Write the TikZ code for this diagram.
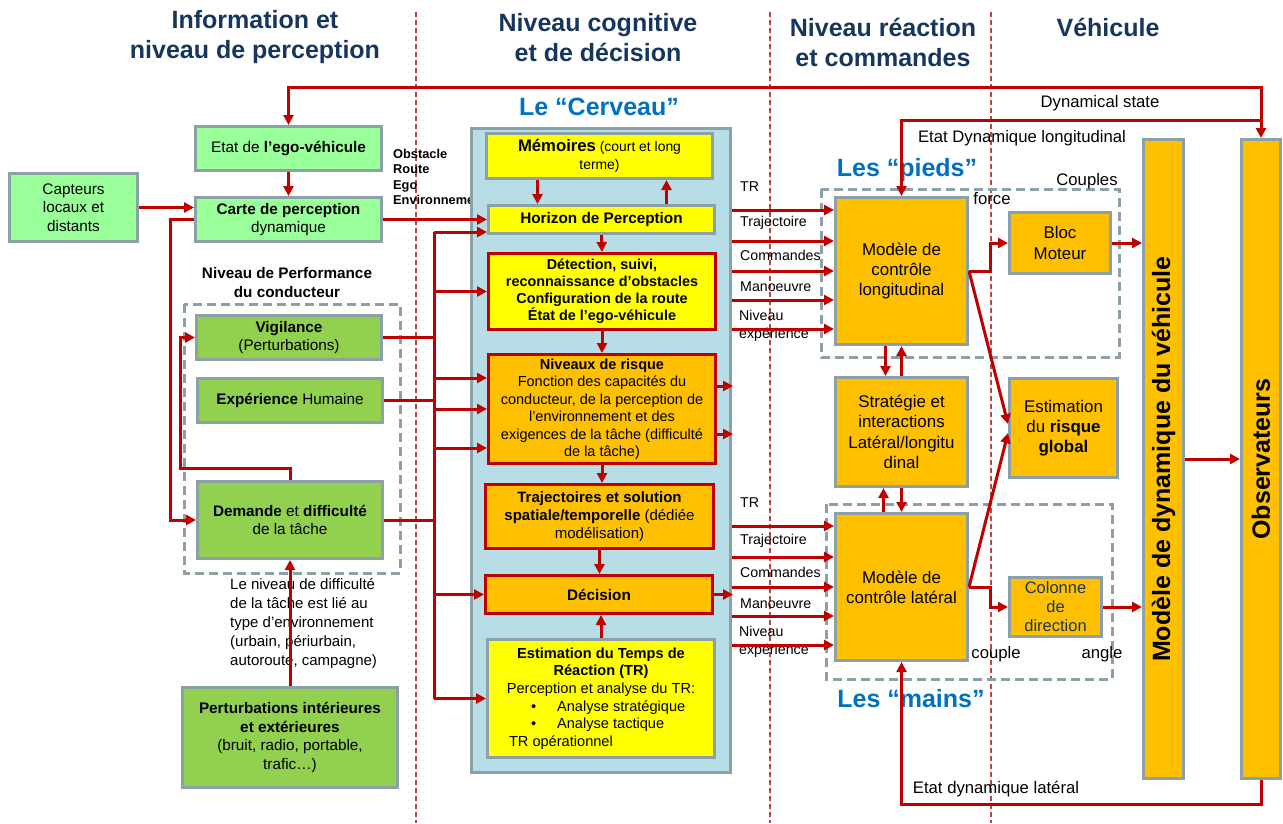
\documentclass[tikz,border=0pt]{standalone}
\usepackage{fontspec}
\setmainfont{Liberation Sans}
\usetikzlibrary{arrows.meta,positioning}
\definecolor{arrred}{RGB}{192,0,0}
\definecolor{boxgray}{RGB}{140,160,168}
\definecolor{lgreen}{RGB}{153,255,153}
\definecolor{mgreen}{RGB}{146,208,80}
\definecolor{cyell}{RGB}{255,255,0}
\definecolor{corange}{RGB}{255,192,0}
\definecolor{brainbg}{RGB}{183,221,230}
\definecolor{titlenavy}{RGB}{23,54,93}
\definecolor{lesblue}{RGB}{0,112,192}
\definecolor{sepred}{RGB}{185,70,70}

\begin{document}
\begin{tikzpicture}[x=1pt, y=-1pt, >={Triangle[length=10pt,width=10pt]},
  box/.style={draw=boxgray, line width=3pt, align=center, inner sep=2pt},
  lgbox/.style={box, fill=lgreen, font=\fontsize{15.3}{18.5}\selectfont},
  mgbox/.style={box, fill=mgreen, font=\fontsize{15.3}{18.7}\selectfont},
  ybox/.style={box, fill=cyell},
  rbox/.style={box, draw=arrred, fill=corange},
  obox/.style={box, fill=corange, font=\fontsize{16.9}{20.3}\selectfont},
  vbar/.style={box, fill=corange, rotate=90, minimum width=639pt, minimum height=40pt, font=\bfseries\fontsize{25}{30}\selectfont},
  wire/.style={draw=arrred, line width=3pt},
  arr/.style={wire, ->},
  grp/.style={draw=boxgray, line width=3pt, dash pattern=on 9pt off 5pt},
  sep/.style={draw=sepred, line width=1.3pt, dash pattern=on 5pt off 3pt},
  ttl/.style={font=\bfseries\fontsize{25}{30}\selectfont, text=titlenavy, align=center},
  les/.style={font=\bfseries\fontsize{25}{30}\selectfont, text=lesblue},
  lbl/.style={font=\fontsize{16.7}{19}\selectfont, inner sep=0pt},
  inlbl/.style={font=\fontsize{14.2}{18.5}\selectfont, inner sep=0pt, anchor=west, align=left}]
  \useasboundingbox (0,0) rectangle (1283,823);

  \foreach \sx in {416,770,991} \draw[sep] (\sx,12) -- (\sx,823);

  \node[ttl] (t1) at (255,37) {Information et\\niveau de perception};
  \node[ttl] (t2) at (598,38) {Niveau cognitive\\et de décision};
  \node[ttl] (t3) at (883,42) {Niveau réaction\\et commandes};
  \node[ttl] (t4) at (1108,27) {Véhicule};

  \draw[grp] (184,304) rectangle (400,573);
  \draw[grp] (821,189) rectangle (1119,357);
  \draw[grp] (826,504) rectangle (1112,679);

  % perception
  \node[lgbox, minimum width=128pt, minimum height=68pt] (capt) at (73.5,207.5) {Capteurs\\locaux et\\distants};
  \node[lgbox, minimum width=186pt, minimum height=44pt] (ego) at (288.5,148.5) {Etat de \textbf{l’ego-véhicule}};
  \node[lgbox, minimum width=186pt, minimum height=44pt] (carte) at (288.5,219.5) {\textbf{Carte de perception}\\dynamique};
  \node[font=\bfseries\fontsize{12.8}{15.3}\selectfont, align=left, anchor=west, inner sep=0pt] (obst) at (393,177) {Obstacle\\Route\\Ego\\Environnement};
  \node[font=\bfseries\fontsize{15.3}{19}\selectfont, align=center] (perft) at (287,282.5) {Niveau de Performance\\du conducteur};
  \node[mgbox, minimum width=185pt, minimum height=44pt] (vig) at (289,337.5) {\textbf{Vigilance}\\(Perturbations)};
  \node[mgbox, minimum width=185pt, minimum height=44pt] (exph) at (290,400.5) {\textbf{Expérience} Humaine};
  \node[mgbox, minimum width=185pt, minimum height=77pt] (dem) at (290,520) {\textbf{Demande} et \textbf{difficulté}\\de la tâche};
  \node[font=\fontsize{15}{19}\selectfont, align=left, anchor=west, inner sep=0pt] (note) at (230,624) {Le niveau de difficulté\\de la tâche est lié au\\type d'environnement\\(urbain, périurbain,\\autoroute, campagne)};
  \node[mgbox, minimum width=215pt, minimum height=100pt] (pert) at (290,737.5) {\textbf{Perturbations intérieures}\\\textbf{et extérieures}\\(bruit, radio, portable,\\trafic…)};

  % cerveau
  \node[les] (cervt) at (599,107) {Le “Cerveau”};
  \node[box, fill=brainbg, minimum width=259pt, minimum height=644pt] (cerv) at (601,450.5) {};
  \node[ybox, minimum width=226pt, minimum height=45pt, font=\fontsize{13.9}{18}\selectfont] (mem) at (599.5,156) {{\bfseries\fontsize{16.7}{18}\selectfont Mémoires} (court et long\\terme)};
  \node[ybox, minimum width=226pt, minimum height=28pt, font=\bfseries\fontsize{15.3}{18}\selectfont] (hor) at (601.5,219.5) {Horizon de Perception};
  \node[rbox, fill=cyell, minimum width=227pt, minimum height=76pt, font=\bfseries\fontsize{14.4}{17}\selectfont] (det) at (602,291.5) {Détection, suivi,\\reconnaissance d'obstacles\\Configuration de la route\\État de l’ego-véhicule};
  \node[rbox, minimum width=227pt, minimum height=109pt, font=\fontsize{14.5}{17.5}\selectfont] (risk) at (602,409) {\textbf{Niveaux de risque}\\Fonction des capacités du\\conducteur, de la perception de\\l’environnement et des\\exigences de la tâche (difficulté\\de la tâche)};
  \node[rbox, minimum width=228pt, minimum height=64pt, font=\fontsize{15}{18.3}\selectfont] (traj) at (599.5,516.5) {\textbf{Trajectoires et solution}\\\textbf{spatiale/temporelle} (dédiée\\modélisation)};
  \node[rbox, minimum width=227pt, minimum height=38pt, font=\bfseries\fontsize{15.3}{18}\selectfont] (dec) at (599,594.5) {Décision};
  \node[ybox, minimum width=227pt, minimum height=118pt, font=\fontsize{14.6}{17.7}\selectfont] (estr) at (601,698.5) {\textbf{Estimation du Temps de}\\\textbf{Réaction (TR)}\\Perception et analyse du TR:\\\makebox[190pt][l]{\hspace{25pt}•\hspace{21pt}Analyse stratégique}\\\makebox[190pt][l]{\hspace{25pt}•\hspace{21pt}Analyse tactique}\\\makebox[190pt][l]{\hspace{3pt}TR opérationnel}};

  % commandes
  \node[les] (pieds) at (907,170) {Les “pieds”};
  \node[les] (mains) at (911,699) {Les “mains”};
  \node[obox, minimum width=132pt, minimum height=147pt] (lon) at (901.5,271) {Modèle de\\contrôle\\longitudinal};
  \node[obox, minimum width=101pt, minimum height=61pt] (moteur) at (1060,243) {Bloc\\Moteur};
  \node[obox, minimum width=132pt, minimum height=109pt] (strat) at (901.5,432) {Stratégie et\\interactions\\Latéral/longitu\\dinal};
  \node[obox, minimum width=108pt, minimum height=99pt] (risq) at (1063.5,428) {Estimation\\du \textbf{risque}\\\textbf{global}};
  \node[obox, minimum width=132pt, minimum height=147pt] (lat) at (901.5,587) {Modèle de\\contrôle latéral};
  \node[obox, text=titlenavy, minimum width=92pt, minimum height=59pt, font=\fontsize{16.5}{19}\selectfont, inner sep=0pt] (col) at (1055.5,607) {Colonne\\de\\direction};
  \node[vbar] (dyn) at (1163.5,459) {Modèle de dynamique du véhicule};
  \node[vbar, minimum height=39pt] (obs) at (1261,459) {Observateurs};

  \node[lbl] (ldyn) at (1100,103) {Dynamical state};
  \node[lbl] (llon) at (1022,138) {Etat Dynamique longitudinal};
  \node[lbl] (llat) at (996,789) {Etat dynamique latéral};
  \node[lbl] (lcouples) at (1087,181) {Couples};
  \node[lbl] (lforce) at (992,199) {force};
  \node[lbl] (lcouple) at (996,654) {couple};
  \node[lbl] (langle) at (1102,654) {angle};
  \foreach \ty/\txt in {187/TR,223/Trajectoire,255/Commandes,287/Manoeuvre,503/TR,541/Trajectoire,572/Commandes,604/Manoeuvre}
    \node[inlbl] (ul\ty) at (740,\ty) {\txt};
  \node[inlbl] (ulniv1) at (739,326) {Niveau\\expérience};
  \node[inlbl] (ulniv2) at (739,642) {Niveau\\expérience};

  % connexions
  \draw[arr] (capt.east) -- (capt.east -| carte.west);
  \draw[arr] (ego.south) -- (carte.north);
  \draw[arr] (carte.east) -- (hor.west);
  \draw[arr] (carte.west) -- ++(-24,0) |- (dem.west);
  \draw[arr] (dem.north) -- ++(0,-12) -| ([xshift=-15pt]vig.west) -- (vig.west);
  \draw[arr] (pert.north) -- (dem.south);

  \coordinate (bus) at (434,232);
  \draw[wire] (bus) -- (bus |- estr.west);
  \draw[wire] (vig.east) -- (vig.east -| bus);
  \draw[wire] (exph.east) -- (exph.east -| bus);
  \draw[wire] (dem.east) -- (dem.east -| bus);
  \draw[arr] (bus) -- (bus -| hor.west);
  \draw[arr] (bus |- det.west) -- (det.west);
  \foreach \dy [count=\i] in {31,0,-39} {
    \coordinate (rk\i) at ([yshift=\dy pt]risk.west);
    \draw[arr] (bus |- rk\i) -- (rk\i);
  }
  \draw[arr] (bus |- dec.west) -- (dec.west);
  \draw[arr] (bus |- estr.west) -- (estr.west);

  \coordinate (mm1) at ([xshift=-62pt]mem.south);
  \coordinate (mm2) at ([xshift=67pt]mem.south);
  \draw[arr] (mm1) -- (mm1 |- hor.north);
  \draw[arr] (mm2 |- hor.north) -- (mm2);
  \draw[arr] (hor.south) -- (det.north);
  \draw[arr] (det.south) -- (risk.north);
  \draw[arr] (risk.south) -- (risk.south |- traj.north);
  \draw[arr] (traj.south) -- (traj.south |- dec.north);
  \draw[arr] (estr.north) -- (estr.north |- dec.south);
  \draw[arr] ([yshift=23pt]risk.east) -- ++(16,0);
  \draw[arr] ([yshift=-25pt]risk.east) -- ++(16,0);
  \draw[arr] (dec.east) -- ++(19,0);

  \foreach \dy [count=\i] in {61,30,0,-29,-58} {
    \coordinate (li\i) at ([yshift=\dy pt]lon.west);
    \coordinate (ti\i) at ([yshift=\dy pt]lat.west);
    \draw[arr] (cerv.east |- li\i) -- (li\i);
    \draw[arr] (cerv.east |- ti\i) -- (ti\i);
  }

  \coordinate (ls) at ([xshift=-16pt]lon.south);
  \draw[arr] (ls) -- (ls |- strat.north);
  \draw[arr] (strat.north) -- (lon.south);
  \coordinate (sl) at ([xshift=-18pt]lat.north);
  \draw[arr] (sl) -- (sl |- strat.south);
  \draw[arr] (strat.south) -- (lat.north);

  \draw[arr] (lon.east) -- ++(21,0) |- (moteur.west);
  \draw[arr] (lon.east) -- ([yshift=4pt]risq.west);
  \draw[arr] (lat.east) -- ([yshift=-5pt]risq.west);
  \draw[arr] (lat.east) -- ++(21,0) |- (col.west);
  \draw[arr] (moteur.east) -- (moteur.east -| dyn.north);
  \draw[arr] (col.east) -- (col.east -| dyn.north);
  \draw[arr] (dyn.south) -- (obs.north);

  \draw[wire, <->] (ego.north) -- ++(0,-38) -| (obs.east);
  \draw[arr] (obs.east) ++(0,-18) -| (lon.north);
  \draw[arr] (obs.west) -- ++(0,24) -| (lat.south);
\end{tikzpicture}
\end{document}
